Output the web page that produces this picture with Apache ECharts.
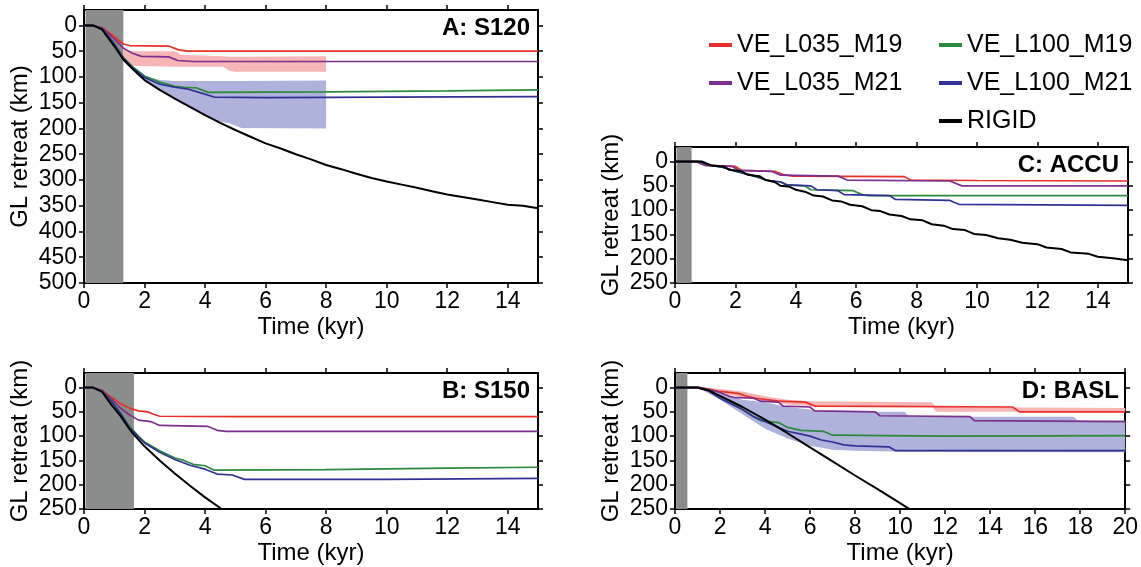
<!DOCTYPE html>
<html>
<head>
<meta charset="utf-8">
<script src="https://cdn.jsdelivr.net/npm/echarts@6/dist/echarts.min.js"></script>
<style>
  html, body { margin: 0; padding: 0; background: #fff; }
  #chart { width: 1141px; height: 567px; }
</style>
</head>
<body>
<div id="chart"></div>
<script>
// tick labels
var timeTicks15 = [0, 2, 4, 6, 8, 10, 12, 14];
var timeTicks20 = [0, 2, 4, 6, 8, 10, 12, 14, 16, 18, 20];
var kmTicks500 = [0, 50, 100, 150, 200, 250, 300, 350, 400, 450, 500];
var kmTicks250 = [0, 50, 100, 150, 200, 250];

var seriesNames = ['VE_L035_M19', 'VE_L035_M21', 'VE_L100_M19', 'VE_L100_M21', 'RIGID'];
var panelTitles = ['A: S120', 'B: S150', 'C: ACCU', 'D: BASL'];

// grey shading (kyr)
var shadeA = [0.05, 1.3];
var shadeB = [0.05, 1.65];
var shadeC = [0.05, 0.55];
var shadeD = [0.05, 0.55];

// panel A: [time kyr, retreat km]
var aRed = [[0,0],[0.3,0],[0.6,4],[1.0,22],[1.3,36],[1.5,39],[2.8,40],[3.1,47],[3.4,50],[15,50]];
var aPurple = [[0,0],[0.3,0],[0.6,5],[1.0,26],[1.3,44],[1.6,54],[1.9,60],[2.8,61],[3.1,68],[3.6,70],[15,70]];
var aGreen = [[0,0],[0.3,0],[0.6,6],[1.0,35],[1.3,62],[1.6,80],[2.0,98],[2.5,110],[3.0,118],[3.3,120],[3.7,121],[4.1,130],[8,129],[12,127],[15,125]];
var aBlue = [[0,0],[0.3,0],[0.6,6],[1.0,36],[1.3,64],[1.6,82],[2.0,101],[2.5,114],[3.0,120],[3.4,123],[3.8,130],[4.3,139],[6,140],[10,139],[15,138]];
var aRigid = [[0,0],[0.3,0],[0.6,8],[1.0,40],[1.3,66],[1.6,84],[2.0,106],[2.5,125],[3.0,142],[3.5,158],[4.0,174],[4.5,189],[5.0,203],[5.5,216],[6.0,229],[6.5,239],[7.0,250],[7.5,260],[8.0,271],[8.5,279],[9.0,288],[9.5,296],[10.0,303],[10.5,309],[11.0,315],[11.5,322],[12.0,328],[12.5,333],[13.0,338],[13.5,343],[14.0,348],[14.5,350],[15,355]];
// bands: [time, min, max]
var aBandRed = [[1.3,46,68],[1.5,50,78],[3.0,50,80],[3.2,57,80],[4.6,60,80],[4.8,61,88],[5.0,61,90],[8.0,60,90]];
var aBandBlue = [[1.3,64,70],[1.6,80,86],[2.0,98,106],[2.5,106,126],[3.0,108,144],[3.5,108,160],[4.0,108,176],[4.4,108,186],[4.8,108,190],[5.2,108,199],[8.0,107,200]];

// panel B
var bRed = [[0,0],[0.3,0],[0.6,6],[0.9,20],[1.2,33],[1.5,42],[1.8,48],[2.1,50],[2.3,55],[2.5,59],[5,60],[15,60]];
var bPurple = [[0,0],[0.3,0],[0.6,6],[0.9,24],[1.2,42],[1.5,56],[1.8,67],[2.2,70],[2.5,78],[4.1,80],[4.4,88],[4.7,90],[15,90]];
var bGreen = [[0,0],[0.3,0],[0.6,8],[0.9,27],[1.2,52],[1.5,80],[1.8,100],[2.0,112],[2.5,130],[3.0,145],[3.3,150],[3.6,158],[4.0,161],[4.3,170],[8,169],[12,166],[15,164]];
var bBlue = [[0,0],[0.3,0],[0.6,8],[0.9,28],[1.2,53],[1.5,82],[1.8,102],[2.0,114],[2.5,133],[3.0,148],[3.5,160],[4.0,168],[4.4,178],[4.9,180],[5.3,189],[10,189],[15,187]];
var bRigid = [[0,0],[0.3,0],[0.6,9],[0.9,35],[1.2,58],[1.5,85],[1.65,97],[2.0,121],[2.5,150],[3.0,177],[3.5,202],[4.0,226],[4.5,248],[5.0,270],[5.5,290]];

// panel C
var cRed = [[0,0],[0.7,0],[1.0,8],[2.0,10],[2.2,18],[3.3,20],[3.6,27],[3.9,30],[7.6,31],[7.8,38],[10,39],[15,40]];
var cPurple = [[0,0],[0.7,0],[1.0,8],[1.9,10],[2.1,18],[3.2,20],[3.5,28],[5.4,30],[5.7,38],[9.1,40],[9.5,50],[15,50]];
var cGreen = [[0,0],[0.8,0],[1.2,8],[1.6,12],[2.0,20],[2.5,28],[3.0,38],[3.5,42],[3.7,48],[4.3,50],[4.5,58],[5.9,60],[6.2,68],[6.4,70],[15,70]];
var cBlue = [[0,0],[0.8,0],[1.2,8],[1.6,12],[2.0,20],[2.4,26],[2.8,32],[3.0,38],[3.5,42],[3.7,48],[4.5,50],[4.7,58],[5.4,60],[5.6,68],[7.1,70],[7.3,78],[9.1,80],[9.4,88],[15,90]];
var cRigid = [[0,0],[0.9,0],[1.2,8],[1.6,10],[1.8,17],[2.2,20],[2.4,27],[2.8,30],[3.0,38],[3.3,42],[3.5,50],[3.8,52],[4.0,58],[4.3,62],[4.6,70],[4.9,72],[5.2,80],[5.5,82],[5.8,89],[6.2,92],[6.5,100],[6.8,102],[7.1,109],[7.5,112],[7.8,119],[8.2,121],[8.5,129],[8.9,132],[9.2,139],[9.6,141],[9.9,149],[10.3,151],[10.7,158],[11.1,161],[11.5,167],[12.0,170],[12.3,177],[12.8,180],[13.1,187],[13.7,190],[14.0,196],[14.5,199],[15,203]];

// panel D
var dRed = [[0,0],[1.1,0],[1.5,3],[2.0,8],[2.8,12],[3.2,18],[3.6,22],[4.6,28],[5.8,30],[6.2,38],[15.0,40],[15.3,50],[20,50]];
var dPurple = [[0,0],[1.1,0],[1.5,4],[2.0,10],[2.4,18],[2.6,20],[3.5,22],[3.8,28],[4.6,30],[4.8,38],[6.0,40],[6.2,48],[8.9,50],[9.1,58],[13.1,60],[13.3,68],[20,70]];
var dGreen = [[0,0],[1.0,0],[1.5,6],[2.0,18],[2.5,30],[3.0,45],[3.5,60],[3.8,68],[4.6,72],[5.0,82],[5.6,88],[6.6,90],[7.0,98],[12,100],[20,99]];
var dBlue = [[0,0],[1.0,0],[1.5,7],[2.0,22],[2.5,34],[3.0,45],[3.5,60],[4.0,70],[4.5,80],[5.0,90],[5.6,96],[6.0,100],[6.5,108],[7.0,112],[7.5,118],[8.0,120],[9.5,122],[9.8,130],[20,130]];
var dRigid = [[0,0],[1.0,0],[1.5,6],[2.0,17],[3.0,40],[4.0,66],[5.0,94],[6.0,123],[7.0,152],[8.0,181],[9.0,209],[10.0,238],[10.5,253],[11,267]];
var dBandRed = [[1.2,0,2],[2.0,3,12],[3.0,8,20],[4.0,18,28],[5.0,25,35],[6.0,28,38],[11.4,30,38],[11.6,40,50],[20,42,50]];
var dBandBlue = [[1.1,0,2],[2.0,10,25],[3.0,25,55],[4.0,30,85],[5.0,40,105],[6.0,45,120],[7.0,50,128],[8.0,50,130],[10.2,50,132],[10.4,60,132],[17.7,60,133],[17.9,68,133],[20,68,133]];

var lineColors = ['#ea2f29', '#7e2e8e', '#2b8a3b', '#2f3294', '#000000'];
var FONT = 'Liberation Sans';

var panels = [
    { grid: {left: 84, top: 10, width: 454, height: 273}, xMax: 15, xTicks: timeTicks15, yMax: 500, yTicks: kmTicks500,
      shade: shadeA, lines: [aRed, aPurple, aGreen, aBlue, aRigid], bands: [aBandBlue, aBandRed], title: {right: 611, top: 16} },
    { grid: {left: 84, top: 373, width: 454, height: 136}, xMax: 15, xTicks: timeTicks15, yMax: 250, yTicks: kmTicks250,
      shade: shadeB, lines: [bRed, bPurple, bGreen, bBlue, bRigid], bands: [], title: {right: 611, top: 379} },
    { grid: {left: 675, top: 147, width: 453, height: 136}, xMax: 15, xTicks: timeTicks15, yMax: 250, yTicks: kmTicks250,
      shade: shadeC, lines: [cRed, cPurple, cGreen, cBlue, cRigid], bands: [], title: {right: 22, top: 153} },
    { grid: {left: 675, top: 373, width: 453, height: 136}, xMax: 20, xTicks: timeTicks20, yMax: 250, yTicks: kmTicks250,
      shade: shadeD, lines: [dRed, dPurple, dGreen, dBlue, dRigid], bands: [dBandBlue, dBandRed], title: {right: 22, top: 379} }
];
var bandColors = ['#afb2da', '#f7b5b5'];

var grids = [], xAxes = [], yAxes = [], series = [], titles = [];
var axisLine = {onZero: false, lineStyle: {color: '#000', width: 2}};
var tickStyle = {color: '#000', width: 1.5};

panels.forEach(function (p, gi) {
    grids.push(p.grid);
    // bottom + top
    xAxes.push({
        gridIndex: gi, type: 'value', min: 0, max: p.xMax, position: 'bottom',
        axisLine: axisLine,
        axisTick: {length: 5, lineStyle: tickStyle, customValues: p.xTicks},
        axisLabel: {color: '#000', fontSize: 23, fontFamily: FONT, margin: 7, customValues: p.xTicks},
        splitLine: {show: false},
        name: 'Time (kyr)', nameLocation: 'middle', nameGap: 32,
        nameTextStyle: {color: '#000', fontSize: 24, fontFamily: FONT}
    });
    xAxes.push({
        gridIndex: gi, type: 'value', min: 0, max: p.xMax, position: 'top',
        axisLine: axisLine,
        axisTick: {length: 5, lineStyle: tickStyle, customValues: p.xTicks},
        axisLabel: {show: false}, splitLine: {show: false}
    });
    // left + right
    yAxes.push({
        gridIndex: gi, type: 'value', min: -30, max: p.yMax, inverse: true, position: 'left',
        axisLine: axisLine,
        axisTick: {length: 5, lineStyle: tickStyle, customValues: p.yTicks},
        axisLabel: {color: '#000', fontSize: 23, fontFamily: FONT, margin: 7, customValues: p.yTicks},
        splitLine: {show: false},
        name: 'GL retreat (km)', nameLocation: 'middle', nameGap: 52,
        nameTextStyle: {color: '#000', fontSize: 24, fontFamily: FONT}
    });
    yAxes.push({
        gridIndex: gi, type: 'value', min: -30, max: p.yMax, inverse: true, position: 'right',
        axisLine: axisLine,
        axisTick: {length: 5, lineStyle: tickStyle, customValues: p.yTicks},
        axisLabel: {show: false}, splitLine: {show: false}
    });

    var xi = gi * 2, yi = gi * 2;
    // grey shaded interval
    series.push({
        type: 'line', xAxisIndex: xi, yAxisIndex: yi, data: [], z: 1, silent: true,
        markArea: {silent: true, itemStyle: {color: '#8b8d8d'},
            data: [[{xAxis: p.shade[0]}, {xAxis: p.shade[1]}]]}
    });
    p.bands.forEach(function (rows, bi) {
        series.push({
            type: 'custom', xAxisIndex: xi, yAxisIndex: yi, data: rows, z: 2 + bi, silent: true, clip: true,
            renderItem: function (params, api) {
                if (params.dataIndex !== 0) return;
                var pts = [];
                for (var i = 0; i < rows.length; i++) pts.push(api.coord([rows[i][0], rows[i][2]]));
                for (var j = rows.length - 1; j >= 0; j--) pts.push(api.coord([rows[j][0], rows[j][1]]));
                return {type: 'polygon', shape: {points: pts}, style: {fill: bandColors[bi]}};
            }
        });
    });
    p.lines.forEach(function (d, li) {
        series.push({
            type: 'line', name: seriesNames[li], xAxisIndex: xi, yAxisIndex: yi, data: d,
            symbol: 'none', showSymbol: false, z: 5 + li, clip: true,
            lineStyle: {color: lineColors[li], width: li === 4 ? 2 : 1.7},
            itemStyle: {color: lineColors[li]}
        });
    });
    titles.push({
        text: panelTitles[gi], right: p.title.right, top: p.title.top, padding: 0,
        textStyle: {color: '#000', fontSize: 24, fontWeight: 'bold', fontFamily: FONT}
    });
});

var legendText = {color: '#000', fontSize: 25, fontFamily: FONT, lineHeight: 28};
var myChart = echarts.init(document.getElementById('chart'));
option = {
    animation: false,
    title: titles,
    legend: [
        {data: [seriesNames[0], seriesNames[1]], orient: 'vertical', left: 709, top: 31, padding: 0,
         itemGap: 10, icon: 'rect', itemWidth: 23, itemHeight: 4, textStyle: legendText, selectedMode: false},
        {data: [seriesNames[2], seriesNames[3], seriesNames[4]], orient: 'vertical', left: 939, top: 31, padding: 0,
         itemGap: 10, icon: 'rect', itemWidth: 23, itemHeight: 4, textStyle: legendText, selectedMode: false}
    ],
    grid: grids,
    xAxis: xAxes,
    yAxis: yAxes,
    series: series
};
myChart.setOption(option);
</script>
</body>
</html>
